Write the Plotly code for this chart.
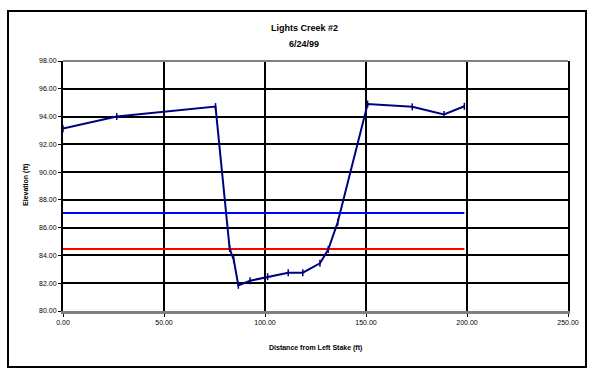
import plotly.graph_objects as go

# Cross-section survey data
distance = [0.0, 26.6, 75.5, 82.5, 84.5, 86.8, 92.6, 101.3, 111.5, 118.7, 127.2, 131.3, 136.0, 150.8, 172.9, 188.6, 198.7]
elevation = [93.13, 94.0, 94.72, 84.5, 83.7, 81.85, 82.18, 82.47, 82.76, 82.76, 83.43, 84.42, 86.39, 94.9, 94.7, 94.15, 94.74]

blue_x = [0.0, 198.7]
blue_y = [87.05, 87.05]
red_x = [0.0, 198.7]
red_y = [84.47, 84.47]

x_ticks = [0, 50, 100, 150, 200, 250]
y_ticks = [80, 82, 84, 86, 88, 90, 92, 94, 96, 98]

FONT = "Liberation Sans, Arial, sans-serif"

fig = go.Figure()
fig.add_trace(go.Scatter(x=blue_x, y=blue_y, mode="lines",
                         line=dict(color="#0000FF", width=2), hoverinfo="skip"))
fig.add_trace(go.Scatter(x=red_x, y=red_y, mode="lines",
                         line=dict(color="#FF0000", width=2), hoverinfo="skip"))
fig.add_trace(go.Scatter(x=distance, y=elevation, mode="lines+markers",
                         line=dict(color="#000080", width=2),
                         marker=dict(symbol="line-ns", size=5,
                                     line=dict(color="#000080", width=1.5))))

W, H = 593, 369
L, R, T, B = 63, 568, 61, 311

fig.update_layout(
    width=W, height=H,
    margin=dict(l=L, r=W - R, t=T, b=H - B, pad=0),
    paper_bgcolor="white", plot_bgcolor="white",
    showlegend=False,
    font=dict(family=FONT, size=7, color="black"),
    xaxis=dict(range=[0, 250], tickvals=x_ticks, tickformat=".2f",
               showgrid=True, gridcolor="black", gridwidth=1.5,
               zeroline=False, showline=True, linecolor="#808080", linewidth=2.5,
               mirror=False, ticks="outside", ticklen=3, tickcolor="black",
               tickfont=dict(size=7, family=FONT, color="black")),
    yaxis=dict(range=[80, 98], tickvals=y_ticks, tickformat=".2f",
               showgrid=True, gridcolor="black", gridwidth=1.5,
               zeroline=False, showline=True, linecolor="black", linewidth=2,
               mirror=True, ticks="outside", ticklen=3, tickcolor="black",
               tickfont=dict(size=7, family=FONT, color="black")),
)

def px2paper_x(px):
    return (px - L) / (R - L)

def px2paper_y(py):
    return (B - py) / (B - T)

# top border of plot area (gray)
fig.add_shape(type="line", xref="paper", yref="paper", x0=0, x1=1, y0=1, y1=1,
              line=dict(color="#808080", width=2))

# outer chart border
fig.add_shape(type="rect", xref="paper", yref="paper",
              x0=px2paper_x(8), x1=px2paper_x(586),
              y0=px2paper_y(367), y1=px2paper_y(11),
              line=dict(color="black", width=2), fillcolor="rgba(0,0,0,0)")

fig.add_annotation(text="<b>Lights Creek #2</b>", xref="paper", yref="paper",
                   x=px2paper_x(304), y=px2paper_y(28), showarrow=False,
                   font=dict(size=9, family=FONT), xanchor="center", yanchor="middle")
fig.add_annotation(text="<b>6/24/99</b>", xref="paper", yref="paper",
                   x=px2paper_x(304), y=px2paper_y(44), showarrow=False,
                   font=dict(size=9, family=FONT), xanchor="center", yanchor="middle")
fig.add_annotation(text="<b>Distance from Left Stake (ft)</b>", xref="paper", yref="paper",
                   x=px2paper_x(315), y=px2paper_y(348), showarrow=False,
                   font=dict(size=7, family=FONT), xanchor="center", yanchor="middle")
fig.add_annotation(text="<b>Elevation (ft)</b>", xref="paper", yref="paper",
                   x=px2paper_x(26), y=px2paper_y(185), showarrow=False, textangle=-90,
                   font=dict(size=7, family=FONT), xanchor="center", yanchor="middle")

fig.write_html("out.html", config={"displayModeBar": False},
               post_script="document.body.style.margin='0px';document.body.style.overflow='hidden';")
